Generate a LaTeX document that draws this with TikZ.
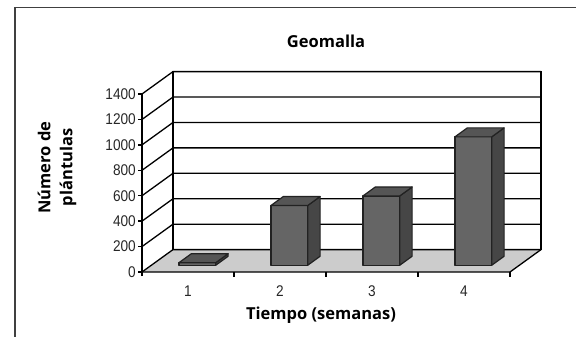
\documentclass[tikz,border=0pt]{standalone}
\usepackage{fontspec}
\newfontfamily\lblfont{Open Sans}
\newfontfamily\tickfont[FakeStretch=0.88]{Liberation Sans}
\definecolor{floorgray}{HTML}{CCCCCC}
\definecolor{barfront}{HTML}{656565}
\definecolor{bartop}{HTML}{555555}
\definecolor{barside}{HTML}{464646}
\definecolor{baredge}{HTML}{222222}
\tikzset{
  gridline/.style={line width=1.3pt, black},
  barface/.style={draw=baredge, line width=1.2pt, line join=round},
  ticklbl/.style={font=\tickfont\fontsize{15.5}{17}\selectfont, inner sep=0pt, text=black!85},
  boldlbl/.style={font=\lblfont\bfseries\fontsize{16.5}{22}\selectfont, inner sep=0pt}
}
\begin{document}
\begin{tikzpicture}[x=1pt,y=1pt]
\useasboundingbox (0,0) rectangle (576,-337);
% frame
\draw[line width=1.6pt, black!75] (14.7,-337) -- (14.7,-7.5) -- (576,-7.5);
% floor
\fill[floorgray] (142,-272) -- (510,-272) -- (541,-249.6) -- (173,-249.6) -- cycle;
% back wall
\draw[gridline] (173,-249.6) rectangle (541,-71.6);
% grid, side wall, y ticks and labels
\foreach \v in {0,200,...,1400} {
  \pgfmathsetmacro\yy{-272 + \v*0.12714}
  \draw[gridline] (142,\yy) -- (173,\yy+22.4) -- (541,\yy+22.4);
  \draw[gridline] (138,\yy) -- (142,\yy);
  \node[ticklbl, anchor=east] (y\v) at (136,\yy) {\v};
}
% y axis
\draw[gridline] (142,-276) -- (142,-94.0);
% x axis
\draw[gridline] (142,-272) -- (510,-272) -- (541,-249.6);
\foreach \k in {1,2,3,4} {
  \draw[gridline] (142+92*\k,-272) -- (142+92*\k,-276.5);
  \node[ticklbl, anchor=base] (x\k) at (142+92*\k-46,-296.5) {\k};
}
% bars
\foreach \i/\val in {1/20,2/470,3/545,4/1010} {
  \pgfmathsetmacro\bx{142 + 92*(\i-0.5) + 0.3*31 - 18.4}
  \pgfmathsetmacro\by{-272 + 0.3*22.4}
  \pgfmathsetmacro\bt{\by + \val*0.12714}
  \filldraw[barface, fill=barfront] (\bx,\by) rectangle (\bx+36.8,\bt);
  \filldraw[barface, fill=barside] (\bx+36.8,\by) -- ++(12.4,9) -- (\bx+49.2,\bt+9) -- (\bx+36.8,\bt) -- cycle;
  \filldraw[barface, fill=bartop] (\bx,\bt) -- ++(12.4,9) -- ++(36.8,0) -- ++(-12.4,-9) -- cycle;
}
% labels
\node[boldlbl, anchor=base] (title) at (326,-47.5) {Geomalla};
\node[boldlbl, anchor=base] (xlabel) at (321,-319.5) {Tiempo (semanas)};
\node[boldlbl, rotate=90, align=center, anchor=center] (ylabel) at (57,-167.5) {Número de\\plántulas};
\end{tikzpicture}
\end{document}
